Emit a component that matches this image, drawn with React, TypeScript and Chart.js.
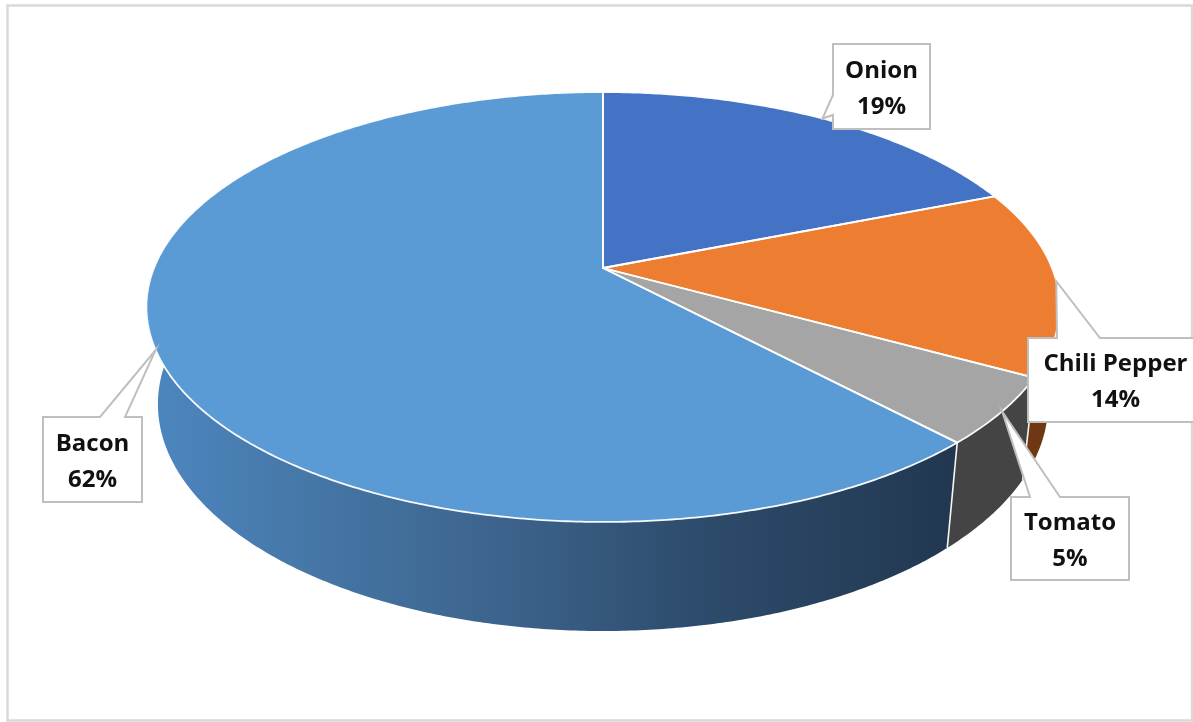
import React, { useEffect, useRef } from "react";
import { Chart, registerables } from "chart.js";

Chart.register(...registerables);

// ---- data ----
const categories = ["Onion", "Chili Pepper", "Tomato", "Bacon"];
const shares = [19, 14, 5, 62];
const percentLabels = ["19%", "14%", "5%", "62%"];

// ---- styles ----
const topColors = ["#4472C4", "#ED7D31", "#A5A5A5", "#5B9BD5"];
const sideColors = ["#2f528f", "#6f3813", "#444444", "gradient"];

// callout boxes (layout): rect + where the pointer attaches
const calloutBoxes = [
  { x: 833, y: 44, w: 97, h: 85, side: "left", a: 95, b: 115 },
  { x: 1028, y: 338, w: 175, h: 84, side: "top", a: 1057, b: 1100 },
  { x: 1011, y: 497, w: 118, h: 83, side: "top", a: 1030, b: 1060 },
  { x: 43, y: 417, w: 99, h: 85, side: "top", a: 100, b: 125 },
];

// perspective parameters of the 3D disk
const PERSP = 0.1814;
const DEPTH_PERSP = 0.025;
const KX = 1.6754;
const KY = 0.7757;
const KH = 0.367;

function proj(cx: number, cy: number, R: number, th: number, w: number): [number, number] {
  const u = Math.cos(th);
  const v = Math.sin(th);
  const D = 1 - PERSP * v + DEPTH_PERSP * w;
  return [cx + (KX * R * u) / D, cy + (KY * R * v + KH * R * w) / D];
}

const pie3d = {
  id: "pie3d",
  beforeDatasetsDraw(chart: any) {
    const ctx: CanvasRenderingContext2D = chart.ctx;
    const meta = chart.getDatasetMeta(0);
    const arcs = meta.data as any[];
    if (!arcs.length) return false;
    const cx = arcs[0].x;
    const cy = arcs[0].y;
    const R = arcs[0].outerRadius;
    const step = Math.PI / 360;

    ctx.save();
    // frame
    ctx.strokeStyle = "#d9d9d9";
    ctx.lineWidth = 2.5;
    ctx.strokeRect(7.5, 5.5, 1184.5, 715);

    // gradient for the big side
    const g = ctx.createLinearGradient(cx - 1.7 * R, 0, cx + 1.3 * R, 0);
    g.addColorStop(0, "#4d86c0");
    g.addColorStop(0.19, "#4678a8");
    g.addColorStop(0.465, "#3b6189");
    g.addColorStop(0.69, "#2d4b6c");
    g.addColorStop(1, "#223850");

    // sides
    arcs.forEach((arc: any, i: number) => {
      const a = Math.max(arc.startAngle, 0);
      const b = Math.min(arc.endAngle, Math.PI);
      if (a >= b) return;
      ctx.beginPath();
      for (let t = a; t <= b + 1e-9; t += step) {
        const [x, y] = proj(cx, cy, R, Math.min(t, b), 0);
        if (t === a) ctx.moveTo(x, y);
        else ctx.lineTo(x, y);
      }
      let p = proj(cx, cy, R, b, 0);
      ctx.lineTo(p[0], p[1]);
      for (let t = b; t >= a - 1e-9; t -= step) {
        const [x, y] = proj(cx, cy, R, Math.max(t, a), 1);
        ctx.lineTo(x, y);
      }
      p = proj(cx, cy, R, a, 1);
      ctx.lineTo(p[0], p[1]);
      ctx.closePath();
      ctx.fillStyle = sideColors[i] === "gradient" ? g : sideColors[i];
      ctx.fill();
    });

    // side boundaries
    ctx.strokeStyle = "rgba(255,255,255,0.95)";
    ctx.lineWidth = 1.6;
    arcs.forEach((arc: any) => {
      const s = arc.startAngle;
      if (s > 0 && s < Math.PI) {
        const p0 = proj(cx, cy, R, s, 0);
        const p1 = proj(cx, cy, R, s, 1);
        ctx.beginPath();
        ctx.moveTo(p0[0], p0[1]);
        ctx.lineTo(p1[0], p1[1]);
        ctx.stroke();
      }
    });

    // top faces
    arcs.forEach((arc: any, i: number) => {
      const a = arc.startAngle;
      const b = arc.endAngle;
      ctx.beginPath();
      ctx.moveTo(cx, cy);
      for (let t = a; t <= b + 1e-9; t += step) {
        const [x, y] = proj(cx, cy, R, Math.min(t, b), 0);
        ctx.lineTo(x, y);
      }
      const p = proj(cx, cy, R, b, 0);
      ctx.lineTo(p[0], p[1]);
      ctx.closePath();
      ctx.fillStyle = topColors[i];
      ctx.fill();
    });
    ctx.strokeStyle = "rgba(255,255,255,0.95)";
    ctx.lineWidth = 1.8;
    ctx.lineJoin = "round";
    arcs.forEach((arc: any) => {
      const a = arc.startAngle;
      const b = arc.endAngle;
      ctx.beginPath();
      ctx.moveTo(cx, cy);
      for (let t = a; t <= b + 1e-9; t += step) {
        const [x, y] = proj(cx, cy, R, Math.min(t, b), 0);
        ctx.lineTo(x, y);
      }
      const p = proj(cx, cy, R, b, 0);
      ctx.lineTo(p[0], p[1]);
      ctx.closePath();
      ctx.stroke();
    });

    // callouts
    arcs.forEach((arc: any, i: number) => {
      const box = calloutBoxes[i];
      const mid = (arc.startAngle + arc.endAngle) / 2;
      const tip = proj(cx, cy, R, mid, 0);
      const { x, y, w, h } = box;
      ctx.beginPath();
      if (box.side === "top") {
        ctx.moveTo(x, y);
        ctx.lineTo(box.a, y);
        ctx.lineTo(tip[0], tip[1]);
        ctx.lineTo(box.b, y);
        ctx.lineTo(x + w, y);
        ctx.lineTo(x + w, y + h);
        ctx.lineTo(x, y + h);
        ctx.closePath();
      } else {
        ctx.moveTo(x, y);
        ctx.lineTo(x + w, y);
        ctx.lineTo(x + w, y + h);
        ctx.lineTo(x, y + h);
        ctx.lineTo(x, box.b);
        ctx.lineTo(tip[0], tip[1]);
        ctx.lineTo(x, box.a);
        ctx.closePath();
      }
      ctx.fillStyle = "#ffffff";
      ctx.fill();
      ctx.strokeStyle = "#bfbfbf";
      ctx.lineWidth = 2;
      ctx.lineJoin = "miter";
      ctx.stroke();

      ctx.fillStyle = "#111111";
      ctx.font = "bold 24px 'Open Sans'";
      ctx.textAlign = "center";
      ctx.textBaseline = "alphabetic";
      const tx = x + w / 2;
      const cyb = y + h / 2;
      ctx.fillText(String(chart.data.labels[i]), tx, cyb - 9);
      ctx.fillText(percentLabels[i], tx, cyb + 27);
    });

    ctx.restore();
    return false;
  },
};

export default function App() {
  const ref = useRef<HTMLCanvasElement | null>(null);
  useEffect(() => {
    document.body.style.margin = "0";
    document.body.style.overflow = "hidden";
    const canvas = ref.current;
    if (!canvas) return;
    const chart = new Chart(canvas, {
      type: "pie",
      data: {
        labels: categories,
        datasets: [
          {
            data: shares,
            backgroundColor: topColors,
            borderWidth: 0,
          },
        ],
      },
      options: {
        responsive: false,
        animation: false,
        devicePixelRatio: 1,
        layout: { padding: { left: 13, right: 0, top: 0, bottom: 186 } },
        plugins: {
          legend: { display: false },
          tooltip: { enabled: false },
        },
      },
      plugins: [pie3d],
    } as any);
    return () => chart.destroy();
  }, []);
  return (
    <div style={{ position: "absolute", left: 0, top: 0, width: 1193, height: 722, background: "#fff" }}>
      <canvas ref={ref} width={1193} height={722} style={{ display: "block" }} />
    </div>
  );
}
